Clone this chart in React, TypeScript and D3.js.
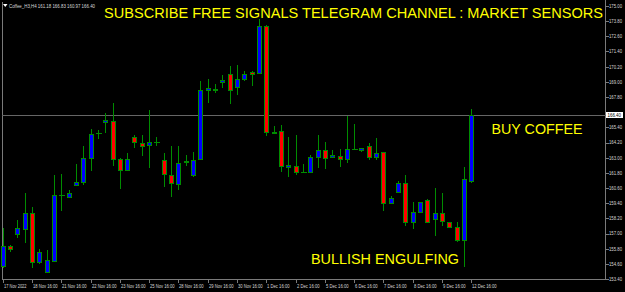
import React from 'react';
import * as d3 from 'd3';

const W = 625;
const H = 292;

const opens = [154.43,156.04,156.94,157.34,158.65,154.72,153.98,154.85,160.02,159.91,160.82,161.05,162.95,164.92,165.80,165.93,162.90,162.05,164.61,164.16,163.98,164.22,162.79,161.61,160.90,162.63,161.61,162.87,168.33,168.46,168.96,169.62,168.62,169.25,169.78,169.68,173.42,165.06,165.14,162.26,162.34,161.88,161.89,163.03,163.61,163.06,163.11,162.92,163.66,163.61,163.93,163.03,163.43,159.39,160.31,160.97,157.89,158.68,159.63,158.13,158.65,157.89,157.52,156.51,161.18];
const highs = [157.44,156.09,158.07,160.23,159.08,155.75,155.70,161.63,161.71,160.44,162.50,163.95,165.27,165.19,166.51,167.30,162.95,163.35,164.80,164.80,166.77,164.61,163.35,163.95,163.95,163.21,163.47,169.07,169.23,168.83,169.54,170.25,170.33,169.86,169.88,173.95,173.50,165.51,165.59,164.64,164.80,162.53,163.21,164.80,164.22,163.61,163.66,166.32,165.67,163.77,164.14,164.58,163.47,159.97,161.16,161.63,159.50,159.52,159.71,160.63,160.18,157.91,157.89,162.29,166.83];
const lows = [154.27,155.56,156.67,156.23,154.30,154.57,153.95,154.82,158.81,159.89,160.80,160.84,161.95,164.48,164.98,162.34,160.50,162.03,163.74,163.16,162.21,163.95,160.71,159.91,160.44,162.37,161.45,162.82,167.30,168.09,168.54,167.25,167.96,169.07,168.67,169.66,164.74,164.87,161.89,161.45,161.66,161.77,161.81,162.16,162.08,163.00,162.29,162.60,163.60,163.47,162.82,162.82,158.81,159.34,160.26,157.62,157.34,158.66,157.81,156.81,157.62,157.47,156.35,154.38,160.97];
const closes = [156.01,155.78,157.41,158.65,154.77,155.56,154.88,160.02,160.02,160.18,161.05,162.95,164.87,164.92,165.96,162.92,162.05,162.90,164.22,163.95,164.22,164.22,161.69,161.00,162.60,162.74,162.79,168.36,168.49,168.33,169.15,168.38,169.23,169.62,169.64,173.44,165.01,164.98,162.34,162.42,161.87,161.88,163.06,163.61,163.00,163.19,162.87,163.66,163.66,163.77,163.03,163.40,159.39,159.79,161.00,157.91,158.73,159.47,157.91,158.65,157.97,157.49,156.49,161.29,166.40];

const xLabels = ["17 Nov 2022","18 Nov 16:00","21 Nov 16:00","22 Nov 16:00","23 Nov 16:00","25 Nov 16:00","28 Nov 16:00","29 Nov 16:00","30 Nov 16:00","1 Dec 16:00","2 Dec 16:00","5 Dec 16:00","6 Dec 16:00","7 Dec 16:00","8 Dec 16:00","9 Dec 16:00","12 Dec 16:00"];
const xLabelBars = [0,4,8,12,16,20,24,28,32,36,40,44,48,52,56,60,64];
const yTicks = [175.00,173.80,172.60,171.40,170.20,169.00,167.80,166.60,165.40,164.20,163.00,161.80,160.60,159.40,158.20,157.00,155.80,154.60,153.40];

const symbol = "Coffee_H3,H4";
const title = "SUBSCRIBE FREE SIGNALS TELEGRAM CHANNEL : MARKET SENSORS";
const note1 = "BUY COFFEE";
const note2 = "BULLISH ENGULFING";

const BLUE = '#0000ff';
const RED = '#ff0000';
const GREEN = '#008c00';
const YELLOW = '#ffff00';
const FRAME = '#7a7a7a';
const AXIS_TEXT = '#d8d8d8';
const FONT = 'Liberation Sans, Arial, sans-serif';

export default function App() {
  const n = opens.length;
  const left = 2;
  const right = 605.5;
  const bottom = 279.5;

  const x = d3.scaleLinear().domain([0, n - 1]).range([2.7, 471.3]);
  const y = d3.scaleLinear().domain([175.0, 153.4]).range([6, 279]);

  const last = n - 1;
  const lastClose = closes[last];
  const priceY = y(lastClose);
  const header = `${symbol} ${opens[last].toFixed(2)} ${highs[last].toFixed(2)} ${lows[last].toFixed(2)} ${closes[last].toFixed(2)}`;

  const candles = d3.range(n).map((i) => {
    const cx = Math.round(x(i)) + 0.5;
    const o = opens[i], c = closes[i];
    const top = y(Math.max(o, c));
    const bot = y(Math.min(o, c));
    const isDoji = Math.abs(o - c) < 0.005;
    const fill = c > o ? BLUE : RED;
    return (
      <g key={i}>
        <line x1={cx} x2={cx} y1={y(highs[i])} y2={y(lows[i])} stroke={GREEN} strokeWidth={1} />
        {isDoji ? (
          <line x1={cx - 3} x2={cx + 3} y1={Math.round(top) + 0.5} y2={Math.round(top) + 0.5} stroke={GREEN} strokeWidth={1} />
        ) : (
          <rect x={cx - 2} y={Math.round(top) + 0.5} width={4} height={Math.max(1, Math.round(bot) - Math.round(top))} fill={fill} stroke={GREEN} strokeWidth={1} />
        )}
      </g>
    );
  });

  return (
    <svg width={W} height={H} style={{ position: 'absolute', left: 0, top: 0, display: 'block', background: '#000' }} shapeRendering="crispEdges">
      <rect x={0} y={0} width={W} height={H} fill="#000" />
      <line x1={left} x2={left} y1={2} y2={bottom} stroke={FRAME} strokeWidth={1} />
      <line x1={right} x2={right} y1={0} y2={bottom} stroke={FRAME} strokeWidth={1} />
      <line x1={left} x2={right} y1={bottom} y2={bottom} stroke={FRAME} strokeWidth={1} />
      <line x1={left} x2={right} y1={Math.round(priceY) + 0.5} y2={Math.round(priceY) + 0.5} stroke="#666666" strokeWidth={1} />

      {candles}

      {yTicks.map((t, k) => {
        const ty = y(t);
        const hidden = Math.abs(ty - priceY) < 7;
        return (
          <g key={k}>
            <line x1={right} x2={right + 3} y1={Math.round(ty) + 0.5} y2={Math.round(ty) + 0.5} stroke={FRAME} />
            {!hidden && (
              <text x={609} y={ty + 1.9} fontSize={5} fill={AXIS_TEXT} fontFamily={FONT} textLength={13} lengthAdjust="spacingAndGlyphs">{t.toFixed(2)}</text>
            )}
          </g>
        );
      })}
      <rect x={606} y={priceY - 3} width={17} height={6} fill="#ffffff" />
      <text x={607.5} y={priceY + 1.9} fontSize={5} fill="#000" fontFamily={FONT} textLength={13.5} lengthAdjust="spacingAndGlyphs">{lastClose.toFixed(2)}</text>

      {xLabels.map((lab, k) => {
        const tx = Math.round(x(xLabelBars[k])) + 0.5;
        return (
          <g key={k}>
            <line x1={tx} x2={tx} y1={bottom} y2={bottom + 3} stroke={FRAME} />
            <text x={tx + 0.5} y={287.5} fontSize={5} fill={AXIS_TEXT} fontFamily={FONT} textLength={lab.length * 2.05} lengthAdjust="spacingAndGlyphs">{lab}</text>
          </g>
        );
      })}

      <path d="M3,4 L7.5,4 L5.25,7 Z" fill="#ffffff" shapeRendering="auto" />
      <text x={9} y={7.8} fontSize={5.5} fill={AXIS_TEXT} fontFamily={FONT} textLength={86} lengthAdjust="spacingAndGlyphs">{header}</text>

      <text x={104} y={17.5} fontSize={14.5} fill={YELLOW} fontFamily={FONT} textLength={499} lengthAdjust="spacingAndGlyphs">{title}</text>
      <text x={491.5} y={133.5} fontSize={14} fill={YELLOW} fontFamily={FONT} textLength={91} lengthAdjust="spacingAndGlyphs">{note1}</text>
      <text x={311} y={264.2} fontSize={15.5} fill={YELLOW} fontFamily={FONT} textLength={148} lengthAdjust="spacingAndGlyphs">{note2}</text>
    </svg>
  );
}
